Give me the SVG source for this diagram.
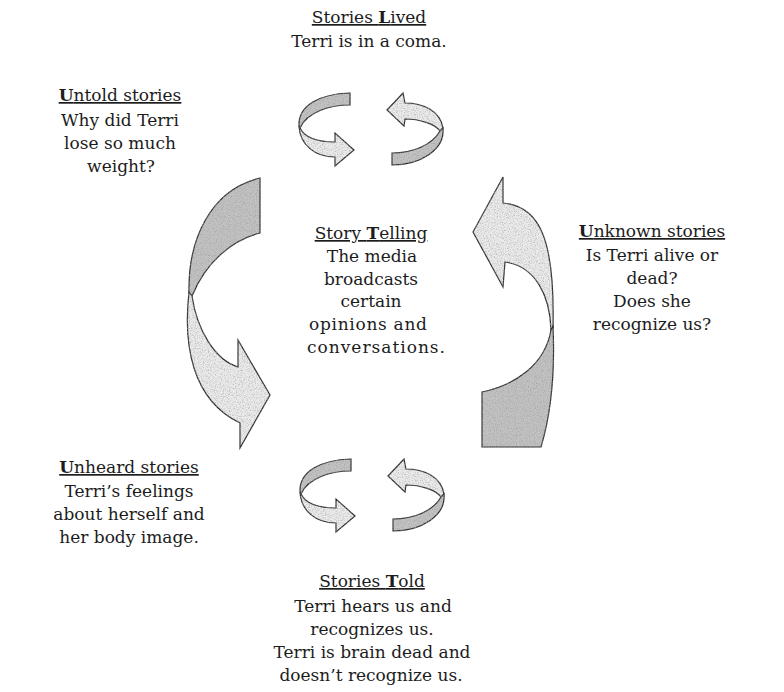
<svg xmlns="http://www.w3.org/2000/svg" width="784" height="692" viewBox="0 0 784 692">
  <style>
    text { font-family: "DejaVu Serif", "Liberation Serif", serif; font-size: 17px; fill: #1c1c1c; text-anchor: middle; }
    .head { text-decoration: underline; }
    .b { font-weight: bold; }
    .dark { fill: #c2c2c2; stroke: #2e2e2e; stroke-width: 1.2; stroke-linejoin: miter; filter: url(#grain); }
    .light { fill: #ebebeb; stroke: #2e2e2e; stroke-width: 1.2; stroke-linejoin: miter; filter: url(#grain); }
  </style>
  <defs>
    <!-- speckled paper-like shading for the arrow fills -->
    <filter id="grain" x="-5%" y="-5%" width="110%" height="110%">
      <feTurbulence type="fractalNoise" baseFrequency="0.85" numOctaves="2" seed="7" result="noise"/>
      <feColorMatrix in="noise" type="matrix" values="0 0 0 0 0.3  0 0 0 0 0.3  0 0 0 0 0.3  0 0 0 1.6 -0.7" result="specks"/>
      <feComposite in="specks" in2="SourceGraphic" operator="in" result="clipped"/>
      <feMerge>
        <feMergeNode in="SourceGraphic"/>
        <feMergeNode in="clipped"/>
      </feMerge>
    </filter>
    <!-- small twisted circular arrow pair -->
    <g id="pair">
      <path class="dark" d="M350,93 L350,105 C330,105 307,112 300,128 L299,126 C298,105 320,94 350,93 Z"/>
      <path class="light" d="M300,128 L299,126 C300,145 315,157 335,157 L335,166 L354,150 L335,133 L335,142 C318,142 305,138 300,128 Z"/>
      <path class="light" d="M387,110 L403,93 L405,103 C422,103 440,110 443,128 L440,131 C435,124 420,119 405,119 L404,126 Z"/>
      <path class="dark" d="M443,128 C445,150 420,165 392,165 L392,153 C413,153 432,145 440,131 Z"/>
    </g>
  </defs>
  <rect width="784" height="692" fill="#ffffff"/>

  <g id="connectors">
    <g id="cycle-top"><use href="#pair"/></g>
    <g id="cycle-bottom"><use href="#pair" transform="translate(1,366)"/></g>
    <g id="arrow-left">
      <path class="dark" d="M260,178 L260,233 C232,240 206,262 192,296 L189,292 C188,240 210,190 260,178 Z"/>
      <path class="light" d="M192,296 L189,292 C183,345 192,400 240,423 L240,448 L270,395 L238,340 L238,367 C215,360 197,330 192,296 Z"/>
    </g>
    <g id="arrow-right">
      <path class="light" d="M473,232 L503,177 L503,203 C540,206 555,240 553,328 L551,330 C550,295 535,266 505,262 L503,287 Z"/>
      <path class="dark" d="M553,326 C555,370 552,410 541,447 L482,447 L482,392 C515,385 545,365 551,330 Z"/>
    </g>
  </g>

  <g id="stories-lived">
    <text class="head" x="369" y="23">Stories <tspan class="b">L</tspan>ived</text>
    <text x="369" y="47">Terri is in a coma.</text>
  </g>

  <g id="untold-stories">
    <text class="head" x="120" y="101"><tspan class="b">U</tspan>ntold stories</text>
    <text x="120" y="126">Why did Terri</text>
    <text x="120" y="149">lose so much</text>
    <text x="121" y="172">weight?</text>
  </g>

  <g id="story-telling">
    <text class="head" x="371" y="239">Story <tspan class="b">T</tspan>elling</text>
    <text x="372" y="262">The media</text>
    <text x="371" y="285">broadcasts</text>
    <text x="371" y="307">certain</text>
    <text x="368" y="330" textLength="118" lengthAdjust="spacing">opinions and</text>
    <text x="376" y="353" textLength="138" lengthAdjust="spacing">conversations.</text>
  </g>

  <g id="unknown-stories">
    <text class="head" x="652" y="237"><tspan class="b">U</tspan>nknown stories</text>
    <text x="652" y="261">Is Terri alive or</text>
    <text x="652" y="284">dead?</text>
    <text x="652" y="307">Does she</text>
    <text x="652" y="330">recognize us?</text>
  </g>

  <g id="unheard-stories">
    <text class="head" x="129" y="473"><tspan class="b">U</tspan>nheard stories</text>
    <text x="129" y="497">Terri’s feelings</text>
    <text x="129" y="520">about herself and</text>
    <text x="129" y="543">her body image.</text>
  </g>

  <g id="stories-told">
    <text class="head" x="372" y="587">Stories <tspan class="b">T</tspan>old</text>
    <text x="373" y="612">Terri hears us and</text>
    <text x="372" y="635">recognizes us.</text>
    <text x="372" y="658">Terri is brain dead and</text>
    <text x="371" y="681">doesn’t recognize us.</text>
  </g>
</svg>
